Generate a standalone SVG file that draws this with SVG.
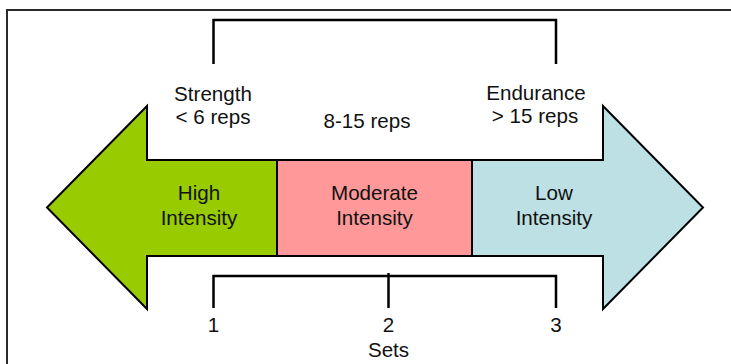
<svg xmlns="http://www.w3.org/2000/svg" width="731" height="364" viewBox="0 0 731 364">
<style>
.t{font-family:"Liberation Sans",Arial,Helvetica,sans-serif;font-size:20.6px;fill:#111;text-anchor:middle}
.seg{stroke:#000;stroke-width:2;stroke-linejoin:miter}
.br{fill:none;stroke:#000;stroke-width:2.5}
</style>
<rect x="0" y="0" width="731" height="364" fill="#fff"/>
<rect id="frame" x="7" y="10" width="740" height="370" fill="none" stroke="#2a2a2a" stroke-width="2"/>
<g id="connectors">
<path class="br" d="M213.5,64 V20 H556 V64"/>
<path class="br" d="M213.5,308 V276 H556 V308"/>
<path class="br" d="M388.5,273 V308" stroke-width="3.5"/>
</g>
<g id="node-high">
<polygon class="seg" fill="#99cc00" points="47,207.5 147,106 147,160 277,160 277,256 147,256 147,309"/>
<text class="t" x="199" y="200">High</text>
<text class="t" x="199" y="225">Intensity</text>
</g>
<g id="node-moderate">
<rect class="seg" fill="#ff9999" x="277" y="160" width="195" height="96"/>
<text class="t" x="374.5" y="200">Moderate</text>
<text class="t" x="374.5" y="225">Intensity</text>
</g>
<g id="node-low">
<polygon class="seg" fill="#bce0e3" points="472,160 603,160 603,106 703,207.5 603,309 603,256 472,256"/>
<text class="t" x="554" y="200">Low</text>
<text class="t" x="554" y="225">Intensity</text>
</g>
<g id="node-strength">
<text class="t" x="213" y="100.5">Strength</text>
<text class="t" x="213" y="124">&lt; 6 reps</text>
</g>
<g id="node-reps">
<text class="t" x="367" y="127.5">8-15 reps</text>
</g>
<g id="node-endurance">
<text class="t" x="536" y="100">Endurance</text>
<text class="t" x="535" y="123">&gt; 15 reps</text>
</g>
<g id="node-sets">
<text class="t" x="213.5" y="332">1</text>
<text class="t" x="388.5" y="332">2</text>
<text class="t" x="556" y="332">3</text>
<text class="t" x="388.5" y="357">Sets</text>
</g>
</svg>
